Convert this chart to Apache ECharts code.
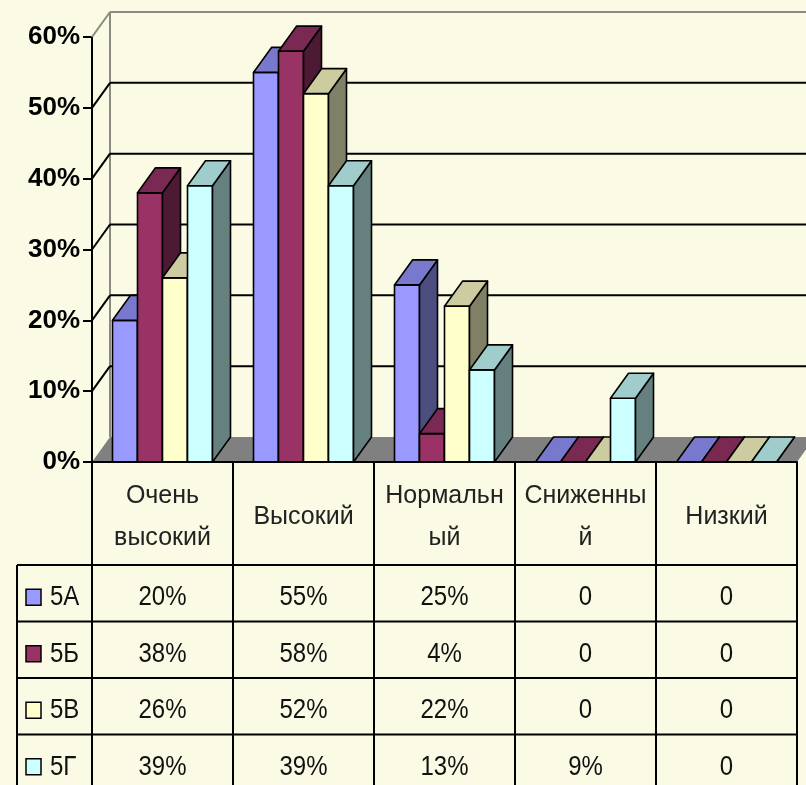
<!DOCTYPE html>
<html>
<head>
<meta charset="utf-8">
<script src="https://cdn.jsdelivr.net/npm/echarts@6/dist/echarts.min.js"></script>
<style>
  html,body{margin:0;padding:0;background:#FBFBE5;}
  #chart{width:806px;height:785px;}
</style>
</head>
<body>
<div id="chart"></div>
<script>
// ---- data ----
const categories = ['Очень\nвысокий', 'Высокий', 'Нормальн\nый', 'Сниженны\nй', 'Низкий'];
const seriesNames = ['5А', '5Б', '5В', '5Г'];
const values5A = [20, 55, 25, 0, 0];
const values5B = [38, 58, 4, 0, 0];
const values5V = [26, 52, 22, 0, 0];
const values5G = [39, 39, 13, 9, 0];
const yTicks = [0, 10, 20, 30, 40, 50, 60];

// ---- styles ----
const seriesValues = [values5A, values5B, values5V, values5G];
const palette = [
  { front: '#9999FF', top: '#7878CC', side: '#4D4D80' },
  { front: '#993366', top: '#7A2952', side: '#4D1A33' },
  { front: '#FFFFCC', top: '#CCCCA0', side: '#808066' },
  { front: '#CCFFFF', top: '#A0CCCC', side: '#668080' }
];
const BG = '#FBFBE5';
const DX = 18, DY = -25;          // 3D depth offset
const BAR_FRAC = 25 / 141;        // bar width relative to category band
const GRID = { left: 92, right: 9, top: 37, bottom: 323 };
const W = 806, H = 785;
const FONT = 'Liberation Sans, Arial, sans-serif';

const chart = echarts.init(document.getElementById('chart'), null, { renderer: 'canvas' });

function wallRender(params, api) {
  const cs = params.coordSys;
  const gx = cs.x, gw = cs.width;
  const y0 = api.coord([0, 0])[1];
  const children = [];
  children.push({
    type: 'polygon',
    shape: { points: [[gx, y0], [gx + gw, y0], [gx + gw + DX, y0 + DY], [gx + DX, y0 + DY]] },
    style: { fill: '#808080' }
  });
  const maxV = yTicks[yTicks.length - 1];
  const yTop = api.coord([0, maxV])[1];
  children.push({
    type: 'line',
    shape: { x1: gx + DX, y1: y0 + DY, x2: gx + DX, y2: yTop + DY },
    style: { stroke: '#8A8A80', lineWidth: 2 }
  });
  yTicks.forEach(function (v) {
    if (v === 0) return;
    const y = api.coord([0, v])[1];
    const col = v === maxV ? '#8A8A80' : '#000';
    children.push({
      type: 'line',
      shape: { x1: gx + DX, y1: y + DY, x2: gx + gw + DX + 20, y2: y + DY },
      style: { stroke: col, lineWidth: 2 }
    });
    children.push({
      type: 'line',
      shape: { x1: gx, y1: y, x2: gx + DX, y2: y + DY },
      style: { stroke: col, lineWidth: 2 }
    });
  });
  return { type: 'group', children: children };
}

function makeBarRender(k) {
  return function (params, api) {
    const ci = api.value(0), v = api.value(1);
    const p0 = api.coord([ci, 0]);
    const p1 = api.coord([ci, v]);
    const band = api.size([1, 0])[0];
    const bw = band * BAR_FRAC;
    const x0 = p0[0] - bw * seriesValues.length / 2 + k * bw;
    const x1 = x0 + bw;
    const yb = p0[1], yt = p1[1];
    const c = palette[k];
    const st = { stroke: '#000', lineWidth: 1.6, lineJoin: 'round' };
    return {
      type: 'group',
      children: [
        { type: 'polygon', shape: { points: [[x0, yt], [x1, yt], [x1, yb], [x0, yb]] },
          style: Object.assign({ fill: c.front }, st) },
        { type: 'polygon', shape: { points: [[x1, yt], [x1, yb], [x1 + DX, yb + DY], [x1 + DX, yt + DY]] },
          style: Object.assign({ fill: c.side }, st) },
        { type: 'polygon', shape: { points: [[x0, yt], [x1, yt], [x1 + DX, yt + DY], [x0 + DX, yt + DY]] },
          style: Object.assign({ fill: c.top }, st) }
      ]
    };
  };
}

// ---- table (built from the data arrays) ----
function fmt(v) { return v === 0 ? '0' : v + '%'; }
function buildTable() {
  const gx = GRID.left, gw = W - GRID.left - GRID.right;
  const cw = gw / categories.length;
  const y0 = H - GRID.bottom;
  const headerBottom = 565;
  const rowH = 56.5;
  const legendLeft = 17;
  const els = [];
  const lineStyle = { stroke: '#000', lineWidth: 2 };
  const SY = 1.18;
  for (let i = 0; i <= categories.length; i++) {
    const x = Math.round(gx + cw * i);
    els.push({ type: 'line', shape: { x1: x, y1: y0, x2: x, y2: H + 10 }, style: lineStyle });
  }
  els.push({ type: 'line', shape: { x1: legendLeft, y1: headerBottom, x2: legendLeft, y2: H + 10 }, style: lineStyle });
  for (let r = 0; r < seriesNames.length; r++) {
    const y = headerBottom + rowH * r;
    els.push({ type: 'line', shape: { x1: legendLeft, y1: y, x2: gx + gw, y2: y }, style: lineStyle });
    const cy = y + rowH / 2 + 4;
    els.push({ type: 'rect', shape: { x: 26, y: cy - 8, width: 15, height: 16 },
      style: { fill: palette[r].front, stroke: '#000', lineWidth: 1.5 } });
    els.push({ type: 'text', x: 50, y: cy, scaleY: SY,
      style: { text: seriesNames[r], fill: '#111', font: '24px ' + FONT, textAlign: 'left', textVerticalAlign: 'middle' } });
    seriesValues[r].forEach(function (v, c) {
      els.push({ type: 'text', x: gx + cw * (c + 0.5), y: cy, scaleY: SY,
        style: { text: fmt(v), fill: '#111', font: '24px ' + FONT, textAlign: 'center', textVerticalAlign: 'middle' } });
    });
  }
  return els;
}

const series = [{
  type: 'custom', name: 'wall', renderItem: wallRender, data: [[0, 0]], silent: true, z: 1
}];
seriesValues.forEach(function (vals, k) {
  series.push({
    type: 'custom', name: seriesNames[k], renderItem: makeBarRender(k), z: 2,
    encode: { x: 0, y: 1 },
    data: vals.map(function (v, i) { return [i, v]; })
  });
});

chart.setOption({
  backgroundColor: BG,
  animation: false,
  grid: GRID,
  xAxis: {
    type: 'category',
    data: categories,
    boundaryGap: true,
    axisLine: { lineStyle: { color: '#000', width: 2 } },
    axisTick: { show: false },
    axisLabel: {
      interval: 0, margin: 55, fontSize: 25, lineHeight: 42, color: '#222',
      fontFamily: FONT, verticalAlign: 'middle'
    },
    z: 5
  },
  yAxis: {
    type: 'value', min: 0, max: 60, interval: 10,
    axisLine: { show: true, lineStyle: { color: '#000', width: 2 } },
    axisTick: { show: true, length: 9, lineStyle: { color: '#000', width: 2 } },
    splitLine: { show: false },
    axisLabel: { formatter: '{value}%', fontSize: 26, fontWeight: 'bold', color: '#000', fontFamily: FONT, margin: 12 }
  },
  graphic: buildTable(),
  series: series
});
</script>
</body>
</html>
